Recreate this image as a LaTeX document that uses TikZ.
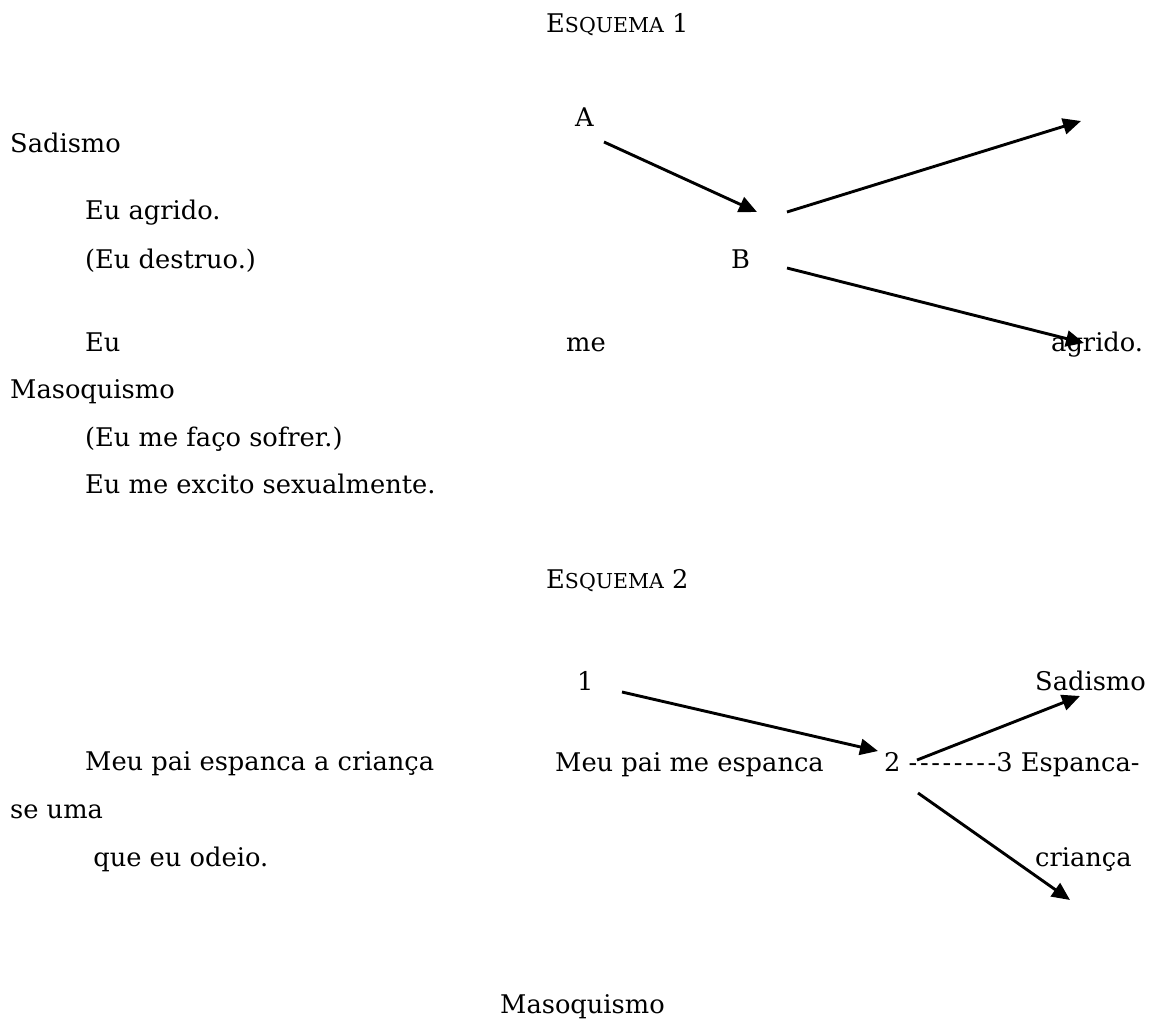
\documentclass[tikz,border=0pt]{standalone}
\usepackage{fontspec}
\setmainfont{DejaVu Serif}
\usetikzlibrary{arrows.meta}
\newcommand{\fsc}[1]{{\fontsize{20.5}{24}\selectfont #1}}
\newcommand{\hy}{-\kern2.6pt}
\begin{document}
\begin{tikzpicture}[x=1pt,y=-1pt,
  bk/.style={anchor=base west,inner sep=0pt,font=\fontsize{25.7}{30}\selectfont},
  ttl/.style={anchor=base west,inner sep=0pt,font=\fontsize{25.7}{30}\selectfont},
  arr/.style={line width=2.9pt,-{Triangle[length=18pt,width=16pt]}}]
\useasboundingbox (0,0) rectangle (1150,1024);
% Esquema 1
\node[ttl] (t1) at (546,33) {E\fsc{SQUEMA} 1};
\node[bk] (A) at (575,127) {A};
\node[bk] (B) at (731,269) {B};
\node[bk] (sad) at (10,153) {Sadismo};
\node[bk] (ag) at (85,220) {Eu agrido.};
\node[bk] (de) at (85,268) {(Eu destruo.)};
\node[bk] (eu) at (85,351) {Eu};
\node[bk] (me) at (566,351) {me};
\node[bk] (agr) at (1051,351) {agrido.};
\node[bk] (mas) at (10,398) {Masoquismo};
\node[bk] (fs) at (85,446) {(Eu me faço sofrer.)};
\node[bk] (ex) at (85,493) {Eu me excito sexualmente.};
\coordinate (a1) at (604,142);
\coordinate (a2) at (757,212);
\coordinate (b1) at (787,212);
\coordinate (b2) at (1081,121);
\coordinate (c1) at (787,268);
\coordinate (c2) at (1084,343);
\draw[arr] (a1) -- (a2);
\draw[arr] (b1) -- (b2);
\draw[arr] (c1) -- (c2);
% Esquema 2
\node[ttl] (t2) at (546,588) {E\fsc{SQUEMA} 2};
\node[bk] (n1) at (577,690) {1};
\node[bk] (sad2) at (1035,690) {Sadismo};
\node[bk] (mpc) at (85,770) {Meu pai espanca a criança};
\node[bk] (mpm) at (555,771) {Meu pai me espanca};
\node[bk] (n2) at (884,771) {2 \hy\hy\hy\hy\hy\hy\hy-3 Espanca-};
\node[bk] (su) at (10,818) {se uma};
\node[bk] (qe) at (85,866) {\ que eu odeio.};
\node[bk] (cr) at (1035,866) {criança};
\node[bk] (mas2) at (500,1013) {Masoquismo};
\coordinate (d1) at (622,692);
\coordinate (d2) at (878,751);
\coordinate (e1) at (917,760);
\coordinate (e2) at (1080,696);
\coordinate (f1) at (918,793);
\coordinate (f2) at (1070,900);
\draw[arr] (d1) -- (d2);
\draw[arr] (e1) -- (e2);
\draw[arr] (f1) -- (f2);
\end{tikzpicture}
\end{document}
